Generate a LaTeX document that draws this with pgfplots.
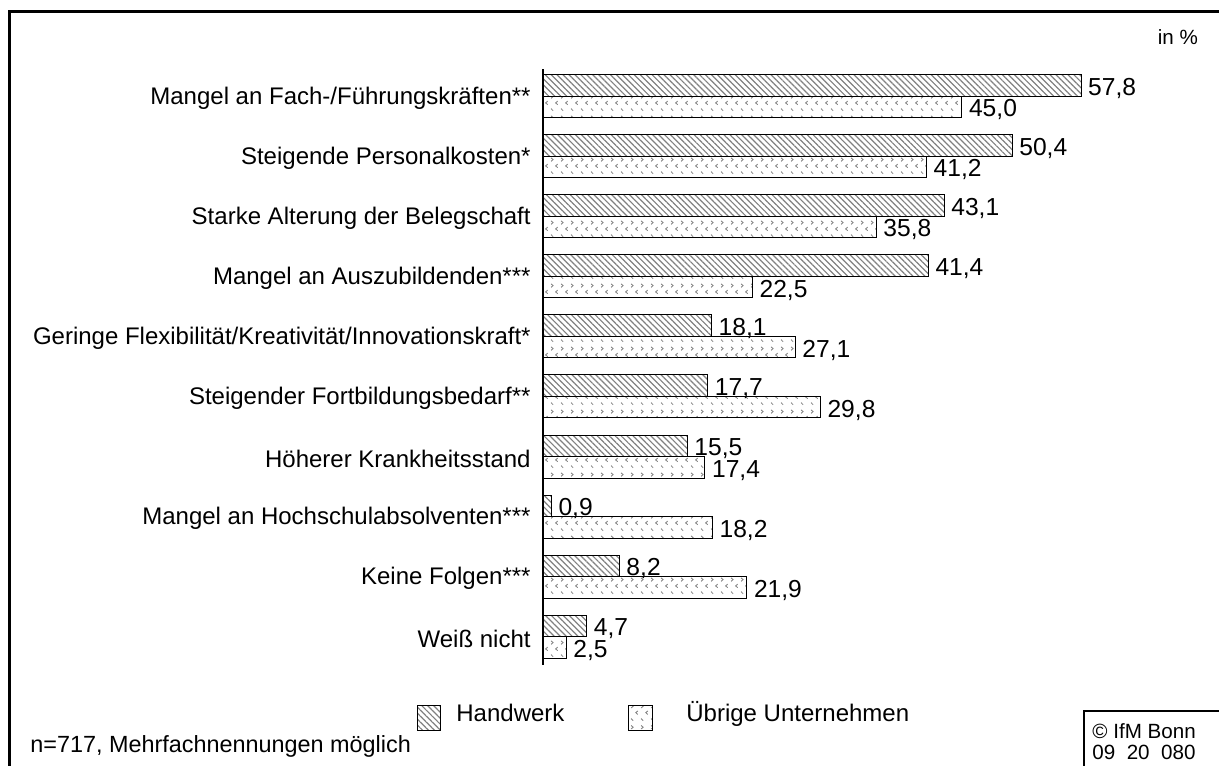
\documentclass[border=0pt]{standalone}
\usepackage{fontspec}
\setmainfont{Liberation Sans}
\usepackage{pgfplots}
\pgfplotsset{compat=1.18}
\usetikzlibrary{patterns,patterns.meta}

\tikzdeclarepattern{
  name=chev,
  type=uncolored,
  bounding box={(0,0) and (5pt,10.5pt)},
  tile size={(5pt,10.5pt)},
  code={
    \draw[line width=0.45pt] (0.6pt,10pt) -- (1.7pt,9.1pt) -- (0.6pt,8.2pt);
    \draw[line width=0.45pt] (4.2pt,6.7pt) -- (3.1pt,5.8pt) -- (4.2pt,4.9pt);
    \draw[line width=0.45pt] (0.6pt,2.8pt) -- (1.7pt,1.7pt);
  }
}

\pgfplotstableread{
idx hw ub
0 57.8 45.0
1 50.4 41.2
2 43.1 35.8
3 41.4 22.5
4 18.1 27.1
5 17.7 29.8
6 15.5 17.4
7 0.9 18.2
8 8.2 21.9
9 4.7 2.5
}\datatable

\tikzset{
  hatchfill/.style={pattern={Lines[angle=-45,distance=2.1pt,line width=0.6pt]}, pattern color=black!50},
  chevfill/.style={pattern=chev, pattern color=black!50},
}

\begin{document}
\begin{tikzpicture}
\useasboundingbox (0,0) rectangle (609.5pt,-382.5pt);
\begin{axis}[
    at={(271.5pt,-34.5pt)}, anchor=north west,
    scale only axis,
    width=325.8pt, height=298pt,
    xbar,
    bar width=0.358,
    xmin=0, xmax=70,
    ymin=-0.45, ymax=9.47,
    y dir=reverse,
    axis x line=none,
    axis y line=left,
    y axis line style={-, line width=0.6pt},
    ytick={0,...,9},
    major tick length=0pt,
    yticklabels={Mangel an Fach-/Führungskräften**,
                 Steigende Personalkosten*,
                 Starke Alterung der Belegschaft,
                 Mangel an Auszubildenden***,
                 Geringe Flexibilität/Kreativität/Innovationskraft*,
                 Steigender Fortbildungsbedarf**,
                 Höherer Krankheitsstand,
                 Mangel an Hochschulabsolventen***,
                 Keine Folgen***,
                 Weiß nicht},
    yticklabel style={font=\fontsize{12}{14}\selectfont, inner sep=0pt, xshift=-6pt, yshift=-1pt},
    nodes near coords,
    nodes near coords align={horizontal},
    every node near coord/.append style={font=\fontsize{12.3}{14}\selectfont, text=black, yshift=-1.5pt},
    /pgf/number format/.cd, fixed, fixed zerofill, precision=1, use comma, assume math mode=true,
]
\addplot[xbar, bar shift=-0.179, draw=black, line width=0.5pt, hatchfill] table[x=hw, y=idx] {\datatable};
\addplot[xbar, bar shift=0.179, draw=black, line width=0.5pt, chevfill] table[x=ub, y=idx] {\datatable};
\end{axis}

% frame
\draw[line width=1.5pt] (4.75pt,-400pt) -- (4.75pt,-5.75pt) -- (620pt,-5.75pt);
\node[anchor=east, font=\fontsize{10.3}{12}\selectfont] at (602.5pt,-18.5pt) {in \%};

% legend
\draw[line width=0.5pt, hatchfill] (208.5pt,-352.5pt) rectangle (220pt,-365pt);
\node[anchor=base west, font=\fontsize{12}{14}\selectfont, inner sep=0pt] at (228pt,-360.5pt) {Handwerk};
\draw[line width=0.5pt, chevfill] (314pt,-352.5pt) rectangle (326pt,-365pt);
\node[anchor=base west, font=\fontsize{12}{14}\selectfont, inner sep=0pt] at (343pt,-360.5pt) {Übrige Unternehmen};

\node[anchor=west, font=\fontsize{11.7}{14}\selectfont, inner sep=0pt] at (15pt,-373pt) {n=717, Mehrfachnennungen möglich};

% copyright box
\draw[line width=0.75pt] (542pt,-400pt) -- (542pt,-355.5pt) -- (620pt,-355.5pt);
\node[anchor=west, font=\fontsize{10.3}{12}\selectfont, inner sep=0pt] at (546pt,-365.5pt) {© IfM Bonn};
\node[anchor=west, font=\fontsize{10.3}{12}\selectfont, inner sep=0pt] at (546pt,-376pt) {09\ \ 20\ \ 080};
\end{tikzpicture}
\end{document}
